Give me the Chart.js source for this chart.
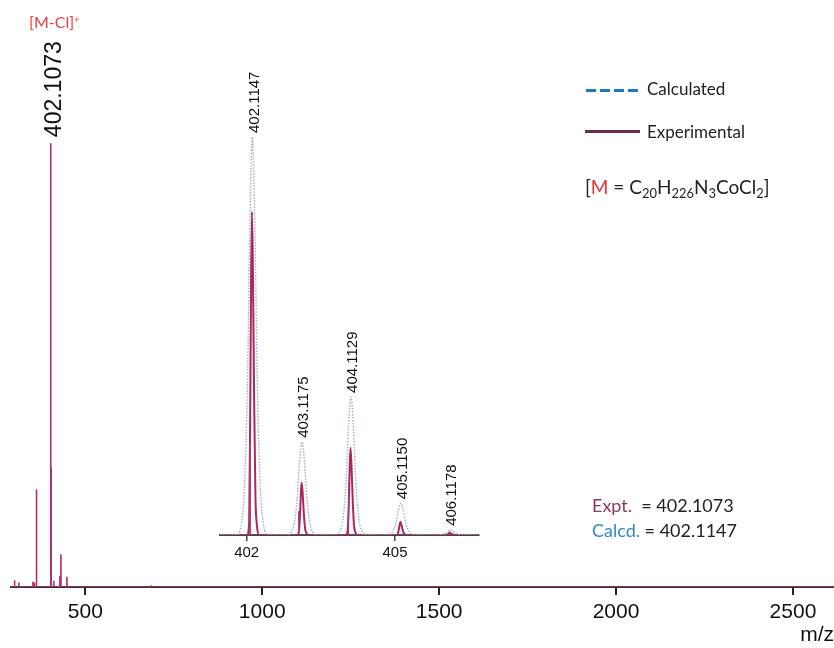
<!DOCTYPE html>
<html>
<head>
<meta charset="utf-8">
<script src="https://cdn.jsdelivr.net/npm/chart.js@4.4.1/dist/chart.umd.min.js"></script>
<style>
  body { margin: 0; background: #fff; }
  #wrap { position: relative; width: 834px; height: 648px; overflow: hidden; font-family: Lato, "Open Sans", sans-serif; }
  canvas { position: absolute; left: 0; top: 0; }
  .t { position: absolute; white-space: nowrap; line-height: 20px; color: #222; }
  .t sub { font-size: 0.68em; vertical-align: -0.3em; line-height: 0; }
  .t sup { font-size: 0.6em; vertical-align: 0.55em; line-height: 0; }
  .leg { position: absolute; height: 3px; width: 55px; }
</style>
</head>
<body>
<div id="wrap">
  <canvas id="mainChart" width="834" height="648"></canvas>
  <canvas id="insetChart" width="834" height="648"></canvas>

  <div class="t" style="left:29px;top:12px;font-size:16px;color:#e8413c">[M-Cl]<sup>+</sup></div>

  <div class="leg" style="left:586px;top:89px;background:repeating-linear-gradient(to right,#1f78c6 0 10px,transparent 10px 14px)"></div>
  <div class="t" style="left:647px;top:79px;font-size:17px">Calculated</div>
  <div class="leg" style="left:585px;top:130px;background:#6e2c45"></div>
  <div class="t" style="left:647px;top:122px;font-size:17px">Experimental</div>
  <div class="t" style="left:585px;top:177px;font-size:19px">[<span style="color:#e8302f">M</span> = C<sub>20</sub>H<sub>226</sub>N<sub>3</sub>CoCl<sub>2</sub>]</div>

  <div class="t" style="left:592px;top:495px;font-size:18px"><span style="color:#8b3a5a">Expt.</span>&nbsp; = 402.1073</div>
  <div class="t" style="left:592px;top:520px;font-size:18px"><span style="color:#2e8bc8">Calcd.</span> = 402.1147</div>
</div>

<script>
// ---------- DATA: full spectrum ----------
const mainXMin = 290;
const mainXMax = 2616;
const mainTicks = [500, 1000, 1500, 2000, 2500];
const mainMz  = [300, 312, 352, 356, 362, 402.1, 411, 428, 431, 448, 685];
const mainInt = [1.5, 1.0, 1.2, 1.0, 22, 100, 1.4, 2.5, 7.4, 2.3, 0.4];
// overlapping isotope stick drawn darker
const isoMz  = [403.1];
const isoInt = [27];
const mainLabelMz = [402.1];
const mainLabelInt = [100];
const mainLabelText = ["402.1073"];

// ---------- DATA: inset isotope pattern ----------
const insetXMin = 401.46;
const insetXMax = 406.70;
const insetTicks = [402, 405];

const calcMz = [
  401.46, 401.795, 401.895, 401.955, 402.015, 402.065, 402.115, 402.165, 402.215, 402.275, 402.335, 402.435,
  402.80, 402.90, 402.96, 403.02, 403.07, 403.12, 403.17, 403.22, 403.28, 403.34, 403.44,
  403.79, 403.89, 403.95, 404.01, 404.06, 404.11, 404.16, 404.21, 404.27, 404.33, 404.43,
  404.80, 404.90, 404.96, 405.02, 405.07, 405.12, 405.17, 405.22, 405.28, 405.34, 405.44,
  405.80, 405.96, 406.02, 406.07, 406.12, 406.17, 406.22, 406.28, 406.44, 406.70
];
const calcInt = [
  0, 0, 3, 12, 38, 78, 100, 78, 38, 12, 3, 0,
  0, 0.7, 2.8, 8.9, 18.3, 23.4, 18.3, 8.9, 2.8, 0.7, 0,
  0, 1.0, 4.2, 13.2, 27.1, 34.7, 27.1, 13.2, 4.2, 1.0, 0,
  0, 0.24, 1.0, 3.0, 6.2, 8.0, 6.2, 3.0, 1.0, 0.24, 0,
  0, 0.16, 0.5, 1.0, 1.3, 1.0, 0.5, 0.16, 0, 0
];

const expMz = [
  401.46, 402.01, 402.05, 402.07, 402.09, 402.107, 402.127, 402.152, 402.177, 402.207, 402.25,
  403.01, 403.05, 403.077, 403.097, 403.112, 403.132, 403.157, 403.182, 403.212, 403.25,
  404.00, 404.04, 404.065, 404.085, 404.100, 404.12, 404.145, 404.17, 404.20, 404.24,
  405.01, 405.05, 405.075, 405.095, 405.11, 405.13, 405.155, 405.18, 405.21, 405.25,
  406.01, 406.075, 406.11, 406.145, 406.22, 406.70
];
const expInt = [
  0, 0, 3.2, 28.4, 65, 81.2, 65, 32.5, 9.7, 2.4, 0,
  0, 0.5, 4.6, 10.5, 13.1, 10.5, 5.2, 1.6, 0.4, 0,
  0, 0.9, 7.7, 17.5, 21.9, 17.5, 8.8, 2.6, 0.7, 0,
  0, 0.1, 1.2, 2.6, 3.3, 2.6, 1.3, 0.4, 0.1, 0,
  0, 0.2, 0.6, 0.25, 0, 0
];

const stickMz  = [402.067, 403.05, 404.06];
const stickInt = [23, 6, 13];

const calcPeakMz  = [402.1147, 403.1175, 404.1129, 405.1150, 406.1178];
const calcPeakInt = [100, 23.4, 34.7, 8.0, 1.3];
const calcPeakText = ["402.1147", "403.1175", "404.1129", "405.1150", "406.1178"];

// ---------- HELPERS ----------
function zip(xs, ys) {
  return xs.map((x, i) => ({ x: x, y: ys[i] }));
}
function sticks(xs, ys, xMin, xMax, w) {
  const pts = [{ x: xMin, y: 0 }];
  xs.forEach((m, i) => {
    pts.push({ x: m - w, y: 0 }, { x: m, y: ys[i] }, { x: m + w, y: 0 });
  });
  pts.push({ x: xMax, y: 0 });
  return pts;
}
function peakLabels(id, mzArr, intArr, texts, font, dx, gap) {
  return {
    id: id,
    afterDatasetsDraw(chart) {
      const ctx = chart.ctx, xs = chart.scales.x, ys = chart.scales.y;
      ctx.save();
      ctx.font = font;
      ctx.fillStyle = "#111";
      ctx.textAlign = "left";
      ctx.textBaseline = "middle";
      mzArr.forEach((m, i) => {
        const px = xs.getPixelForValue(m) + dx;
        const py = ys.getPixelForValue(intArr[i]) - gap;
        ctx.save();
        ctx.translate(px, py);
        ctx.rotate(-Math.PI / 2);
        ctx.fillText(texts[i], 0, 0);
        ctx.restore();
      });
      ctx.restore();
    }
  };
}

Chart.defaults.font.family = '"Liberation Sans", Arial, sans-serif';
Chart.defaults.color = "#111";

// ---------- MAIN SPECTRUM ----------
new Chart(document.getElementById("mainChart"), {
  type: "line",
  data: {
    datasets: [
      {
        data: sticks(mainMz, mainInt, mainXMin, mainXMax, 0.4),
        borderColor: "#b0306b",
        borderWidth: 1.6,
        pointRadius: 0,
        tension: 0
      },
      {
        data: sticks(isoMz, isoInt, 403.0, 403.2, 0.05),
        borderColor: "#74213f",
        borderWidth: 1.6,
        pointRadius: 0,
        tension: 0
      }
    ]
  },
  options: {
    responsive: false,
    animation: false,
    devicePixelRatio: 1,
    layout: { padding: { left: 11, right: 0, top: 10, bottom: 0 } },
    plugins: { legend: { display: false }, tooltip: { enabled: false } },
    scales: {
      x: {
        type: "linear",
        min: mainXMin,
        max: mainXMax,
        afterBuildTicks: (s) => { s.ticks = mainTicks.map(v => ({ value: v })); },
        afterFit: (s) => { s.height = 61; },
        ticks: { font: { size: 21 }, padding: 5, color: "#111", callback: (v) => String(v) },
        grid: { display: true, drawOnChartArea: false, drawTicks: true, tickLength: 8, color: "#222", lineWidth: 2 },
        border: { display: true, color: "#333", width: 2 },
        title: { display: true, text: "m/z", align: "end", font: { size: 21 }, color: "#111", padding: { top: 0, bottom: 0 } }
      },
      y: { display: false, min: 0, max: 130 }
    }
  },
  plugins: [peakLabels("mainLabel", mainLabelMz, mainLabelInt, mainLabelText, '23px "Liberation Sans"', 4, 6)]
});

// ---------- INSET ----------
new Chart(document.getElementById("insetChart"), {
  type: "line",
  data: {
    datasets: [
      {
        data: zip(calcMz, calcInt),
        borderColor: "#98b2c8",
        borderWidth: 1.4,
        borderDash: [1.5, 1.5],
        pointRadius: 0,
        cubicInterpolationMode: "monotone"
      },
      {
        data: sticks(stickMz, stickInt, insetXMin, insetXMax, 0.003),
        borderColor: "#b33a70",
        borderWidth: 1,
        pointRadius: 0,
        tension: 0
      },
      {
        data: zip(expMz, expInt),
        borderColor: "#a8285f",
        borderWidth: 2,
        pointRadius: 0,
        cubicInterpolationMode: "monotone"
      }
    ]
  },
  options: {
    responsive: false,
    animation: false,
    devicePixelRatio: 1,
    layout: { padding: { left: 220, right: 355, top: 100, bottom: 0 } },
    plugins: { legend: { display: false }, tooltip: { enabled: false } },
    scales: {
      x: {
        type: "linear",
        min: insetXMin,
        max: insetXMax,
        afterBuildTicks: (s) => { s.ticks = insetTicks.map(v => ({ value: v })); },
        afterFit: (s) => { s.height = 113; },
        ticks: { font: { size: 15 }, padding: 3, color: "#111", callback: (v) => String(v) },
        grid: { display: true, drawOnChartArea: false, drawTicks: true, tickLength: 6, color: "#444", lineWidth: 1.5 },
        border: { display: true, color: "#444", width: 2 }
      },
      y: { display: false, min: 0, max: 109.3 }
    }
  },
  plugins: [peakLabels("insetLabels", calcPeakMz, calcPeakInt, calcPeakText, '15px "Liberation Sans"', 2, 4)]
});
</script>
</body>
</html>
